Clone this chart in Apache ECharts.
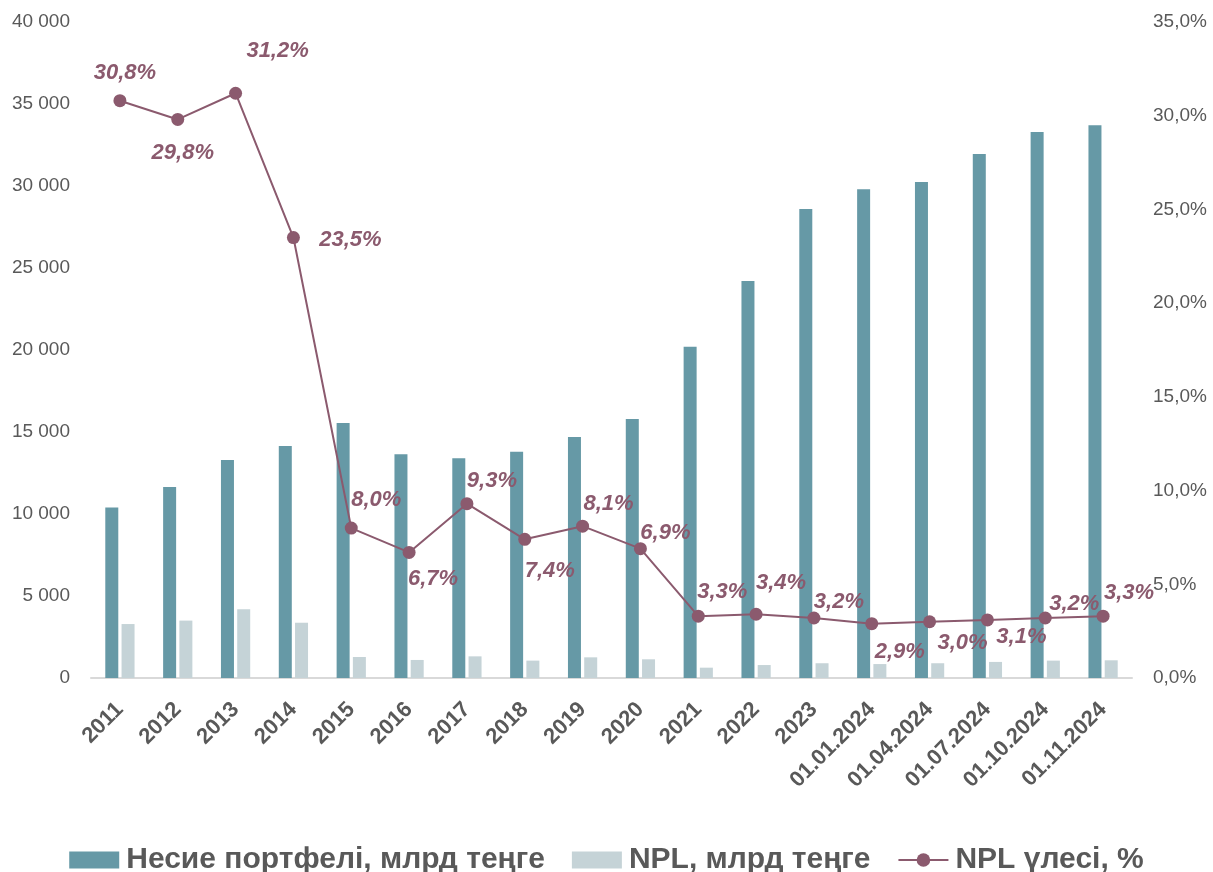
<!DOCTYPE html>
<html>
<head>
<meta charset="utf-8">
<script src="https://cdn.jsdelivr.net/npm/echarts@6/dist/echarts.min.js"></script>
<style>
html,body{margin:0;padding:0;background:#fff;}
#chart{width:1213px;height:872px;}
</style>
</head>
<body>
<div id="chart"></div>
<script>
const categories = ['2011','2012','2013','2014','2015','2016','2017','2018','2019','2020','2021','2022','2023','01.01.2024','01.04.2024','01.07.2024','01.10.2024','01.11.2024'];
const loanPortfolio = [10400,11650,13300,14150,15550,13650,13400,13800,14700,15800,20200,24200,28600,29800,30250,31950,33300,33700];
const nplAmount = [3290,3500,4190,3370,1280,1100,1320,1060,1260,1140,630,790,900,850,900,980,1060,1080];
const nplShare = [30.8,29.8,31.2,23.5,8.0,6.7,9.3,7.4,8.1,6.9,3.3,3.4,3.2,2.9,3.0,3.1,3.2,3.3];
const seriesNames = ['Несие портфелі, млрд теңге','NPL, млрд теңге','NPL үлесі, %'];
const leftTicks = {min:0, max:40000, interval:5000};
const rightTicks = {min:0, max:35, interval:5};
// label placement (style), relative to each point
const labelOffsets = [[5,-28],[5,33],[42,-42],[57,2],[25,-28],[24,27],[25,-23],[25,32],[26,-22],[25,-16],[24,-24],[25,-31],[25,-16],[28,28],[33,21],[34,17],[29,-14],[26,-23]];

const chart = echarts.init(document.getElementById('chart'));
const fam = 'Liberation Sans, Arial, sans-serif';
const axisText = {color:'#595959', fontFamily:fam, fontSize:19};
const lineColor = '#8B5A6E';

chart.setOption({
  animation:false,
  grid:{left:91, right:81, top:22, bottom:194, containLabel:false},
  legend:{
    top:840, left:'center',
    itemWidth:50, itemHeight:17, itemGap:27,
    textStyle:{color:'#595959', fontFamily:fam, fontWeight:'bold', fontSize:30, padding:[0,0,0,2]},
    data:[{name:seriesNames[0], icon:'rect'},{name:seriesNames[1], icon:'rect'},{name:seriesNames[2]}]
  },
  xAxis:{
    type:'category', data:categories,
    axisLine:{lineStyle:{color:'#D9D9D9', width:2}},
    axisTick:{show:false},
    axisLabel:Object.assign({}, axisText, {rotate:45, fontWeight:'bold', fontSize:22, margin:28, interval:0})
  },
  yAxis:[
    {type:'value', min:leftTicks.min, max:leftTicks.max, interval:leftTicks.interval,
     splitLine:{show:false}, axisLine:{show:false}, axisTick:{show:false},
     axisLabel:Object.assign({}, axisText, {margin:21, formatter:v=>String(v).replace(/\B(?=(\d{3})+(?!\d))/g,' ')})},
    {type:'value', min:rightTicks.min, max:rightTicks.max, interval:rightTicks.interval,
     splitLine:{show:false}, axisLine:{show:false}, axisTick:{show:false},
     axisLabel:Object.assign({}, axisText, {margin:21, formatter:v=>v.toFixed(1).replace('.',',')+'%'})}
  ],
  series:[
    {name:seriesNames[0], type:'bar', data:loanPortfolio, barWidth:13, barGap:'25%',
     itemStyle:{color:'#6699A6'}},
    {name:seriesNames[1], type:'bar', data:nplAmount, barWidth:13,
     itemStyle:{color:'#C5D3D7'}},
    {name:seriesNames[2], type:'line', yAxisIndex:1,
     data:nplShare.map((v,i)=>({value:v, label:{offset:labelOffsets[i]}})),
     symbol:'circle', symbolSize:13,
     lineStyle:{color:lineColor, width:2},
     itemStyle:{color:lineColor},
     label:{show:true, position:'inside', color:lineColor, fontFamily:fam,
            fontWeight:'bold', fontStyle:'italic', fontSize:22,
            formatter:p=>p.value.toFixed(1).replace('.',',')+'%'},
     z:5}
  ]
});
</script>
</body>
</html>
